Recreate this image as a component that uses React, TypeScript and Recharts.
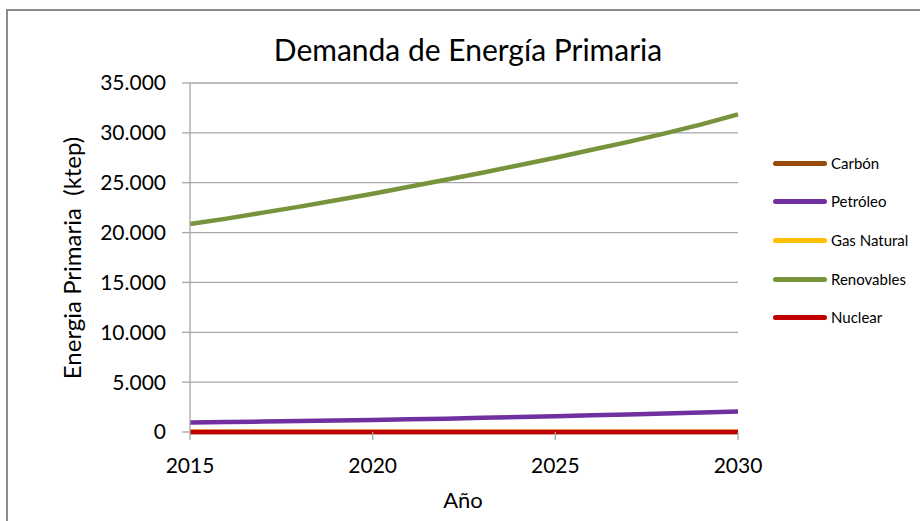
import React from "react";
import { LineChart, Line, XAxis, YAxis, CartesianGrid } from "recharts";

const years = [2015, 2016, 2017, 2018, 2019, 2020, 2021, 2022, 2023, 2024, 2025, 2026, 2027, 2028, 2029, 2030];
const carbon = [0, 0, 0, 0, 0, 0, 0, 0, 0, 0, 0, 0, 0, 0, 0, 0];
const petroleo = [950, 1000, 1050, 1100, 1150, 1200, 1270, 1340, 1420, 1500, 1580, 1670, 1760, 1850, 1950, 2060];
const gasNatural = [20, 20, 20, 20, 20, 20, 20, 20, 20, 20, 20, 20, 20, 20, 20, 20];
const renovables = [20850, 21400, 22000, 22600, 23250, 23900, 24600, 25300, 26000, 26750, 27500, 28300, 29100, 29950, 30850, 31850];
const nuclear = [0, 0, 0, 0, 0, 0, 0, 0, 0, 0, 0, 0, 0, 0, 0, 0];

const yTicks = [0, 5000, 10000, 15000, 20000, 25000, 30000, 35000];
const xTicks = [2015, 2020, 2025, 2030];

const title = "Demanda de Energía Primaria";
const yTitle = "Energia Primaria  (ktep)";
const xTitle = "Año";

const series = [
  { key: "carbon", name: "Carbón", color: "#984807", values: carbon },
  { key: "petroleo", name: "Petróleo", color: "#7030A0", values: petroleo },
  { key: "gas", name: "Gas Natural", color: "#FFC000", values: gasNatural },
  { key: "renovables", name: "Renovables", color: "#77933C", values: renovables },
  { key: "nuclear", name: "Nuclear", color: "#C00000", values: nuclear },
];

const data = years.map((year, i) => {
  const row: Record<string, number> = { year };
  series.forEach((s) => {
    row[s.key] = s.values[i];
  });
  return row;
});

const fmt = (n: number) => String(n).replace(/\B(?=(\d{3})+(?!\d))/g, ".");

const FONT = "Lato, 'Noto Sans', sans-serif";

export default function App() {
  return (
    <div
      style={{
        position: "absolute",
        left: 0,
        top: 0,
        width: 920,
        height: 521,
        overflow: "hidden",
        background: "#fff",
        fontFamily: FONT,
      }}
    >
      <div
        style={{
          position: "absolute",
          left: 6,
          top: 9,
          width: 1200,
          height: 1200,
          border: "2px solid #8c8c8c",
          boxSizing: "border-box",
        }}
      />
      <LineChart
        width={920}
        height={521}
        data={data}
        margin={{ top: 83, right: 182, bottom: 0, left: 0 }}
        style={{ position: "absolute", left: 0, top: 0 }}
      >
        <CartesianGrid horizontal={true} vertical={false} stroke="#a6a6a6" strokeWidth={1.3} />
        <XAxis
          dataKey="year"
          type="number"
          domain={[2015, 2030]}
          ticks={xTicks}
          height={89}
          tickSize={8}
          tickMargin={18}
          axisLine={false}
          tickLine={{ stroke: "#a6a6a6", strokeWidth: 1.3 }}
          tick={{ fill: "#000", fontSize: 21, fontFamily: FONT }}
          interval={0}
        />
        <YAxis
          domain={[0, 35000]}
          ticks={yTicks}
          width={190}
          tickSize={8}
          tickMargin={16}
          tickFormatter={fmt}
          axisLine={{ stroke: "#a6a6a6", strokeWidth: 1.3 }}
          tickLine={{ stroke: "#a6a6a6", strokeWidth: 1.3 }}
          tick={{ fill: "#000", fontSize: 21, fontFamily: FONT }}
          interval={0}
        />
        {series.map((s) => (
          <Line
            key={s.key}
            dataKey={s.key}
            name={s.name}
            stroke={s.color}
            strokeWidth={4.5}
            dot={false}
            activeDot={false}
            type="linear"
            isAnimationActive={false}
          />
        ))}
      </LineChart>
      <div
        style={{
          position: "absolute",
          left: 168,
          top: 34,
          width: 600,
          textAlign: "center",
          fontSize: 30,
          lineHeight: 1,
          color: "#000",
        }}
      >
        {title}
      </div>
      <div
        style={{
          position: "absolute",
          left: 72 - 160,
          top: 258 - 12,
          width: 320,
          height: 24,
          textAlign: "center",
          fontSize: 24,
          lineHeight: 1,
          color: "#000",
          transform: "rotate(-90deg)",
          whiteSpace: "pre",
        }}
      >
        {yTitle}
      </div>
      <div
        style={{
          position: "absolute",
          left: 463 - 100,
          top: 489,
          width: 200,
          textAlign: "center",
          fontSize: 22,
          lineHeight: 1,
          color: "#000",
        }}
      >
        {xTitle}
      </div>
      {series.map((s, i) => (
        <div
          key={s.key}
          style={{
            position: "absolute",
            left: 773,
            top: 163.3 + i * 38.6 - 9,
            height: 18,
            display: "flex",
            alignItems: "center",
          }}
        >
          <div
            style={{
              width: 54,
              height: 5,
              borderRadius: 3,
              background: s.color,
            }}
          />
          <span style={{ marginLeft: 4, fontSize: 15, color: "#000", lineHeight: 1 }}>{s.name}</span>
        </div>
      ))}
    </div>
  );
}
